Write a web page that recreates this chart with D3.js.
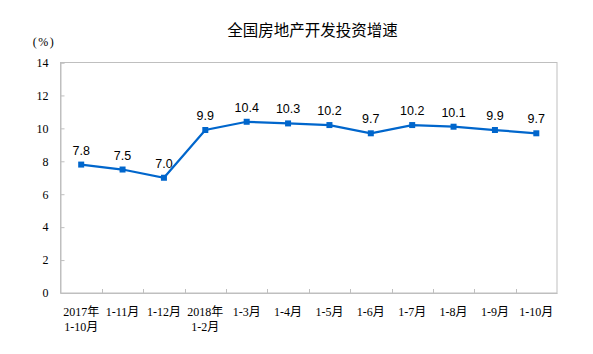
<!DOCTYPE html>
<html>
<head>
<meta charset="utf-8">
<script src="https://cdn.jsdelivr.net/npm/d3@7"></script>
<style>
	body { margin: 0; background: #fff; }
	svg { display: block; }
</style>
</head>
<body>
<div id="chart-bg"></div>
<script>
var categories = ["2017年1-10月", "1-11月", "1-12月", "2018年1-2月", "1-3月", "1-4月", "1-5月", "1-6月", "1-7月", "1-8月", "1-9月", "1-10月"];
var categoryLines = [["2017年", "1-10月"], ["1-11月"], ["1-12月"], ["2018年", "1-2月"], ["1-3月"], ["1-4月"], ["1-5月"], ["1-6月"], ["1-7月"], ["1-8月"], ["1-9月"], ["1-10月"]];
var growth = [7.8, 7.5, 7.0, 9.9, 10.4, 10.3, 10.2, 9.7, 10.2, 10.1, 9.9, 9.7];
var yTicks = [0, 2, 4, 6, 8, 10, 12, 14];

var w = 593;
var h = 354;
var plotLeft = 60.5;
var plotRight = 557;
var plotTop = 62.5;
var plotBottom = 293;
var axisColor = "#bfbfbf";
var lineColor = "#0066cc";

var svg = d3.
select("#chart-bg").
append("svg").
attr("width", w).
attr("height", h);

var xScale = d3.scaleBand().domain(categories).range([plotLeft, plotRight]);
var yScale = d3.scaleLinear().domain([0, 14]).range([plotBottom, plotTop]);

// frame
svg.
append("rect").
attr("x", plotLeft).
attr("y", plotTop).
attr("width", plotRight - plotLeft).
attr("height", plotBottom - plotTop).
attr("fill", "none").
attr("stroke", axisColor).
attr("stroke-width", 1);

// y axis
var yAxis = d3.axisLeft(yScale).tickValues(yTicks).tickSize(-4).tickPadding(12).tickFormat(d3.format("d"));
var gy = svg.
append("g").
attr("transform", "translate(" + plotLeft + ",0)").
call(yAxis);
gy.select(".domain").attr("stroke", axisColor);
gy.selectAll(".tick line").attr("stroke", axisColor);
gy.selectAll(".tick text").
attr("fill", "#000").
style("font-family", "'Liberation Serif', 'Times New Roman', serif").
style("font-size", "12px");

// x axis line + inward ticks at band boundaries
var xAxis = d3.axisBottom(xScale).tickSize(0).tickFormat("");
var gx = svg.
append("g").
attr("transform", "translate(0," + plotBottom + ")").
call(xAxis);
gx.select(".domain").attr("stroke", axisColor);

svg.
selectAll("line.xtick").
data(categories.slice(1)).
enter().
append("line").
attr("class", "xtick").
attr("x1", function (d) {return Math.round(xScale(d)) + 0.5;}).
attr("x2", function (d) {return Math.round(xScale(d)) + 0.5;}).
attr("y1", plotBottom).
attr("y2", plotBottom - 4).
attr("stroke", axisColor);

// x labels
var xl = svg.
selectAll("text.xlabel").
data(categories).
enter().
append("text").
attr("class", "xlabel").
attr("text-anchor", "middle").
style("font-family", "'Liberation Serif', 'Noto Sans CJK SC', serif").
style("font-size", "12px").
attr("fill", "#000");

xl.each(function (d, i) {
	var t = d3.select(this);
	var cx = xScale(d) + xScale.bandwidth() / 2;
	categoryLines[i].forEach(function (s, j) {
		t.append("tspan").
		attr("x", cx).
		attr("y", 316 + j * 15).
		text(s);
	});
});

// line
var line = d3.line().
x(function (d, i) {return xScale(categories[i]) + xScale.bandwidth() / 2;}).
y(function (d) {return yScale(d);});

svg.
append("path").
datum(growth).
attr("d", line).
attr("fill", "none").
attr("stroke", lineColor).
attr("stroke-width", 2.25);

svg.
selectAll("rect.dot").
data(growth).
enter().
append("rect").
attr("class", "dot").
attr("x", function (d, i) {return xScale(categories[i]) + xScale.bandwidth() / 2 - 3;}).
attr("y", function (d) {return yScale(d) - 3;}).
attr("width", 6).
attr("height", 6).
attr("fill", lineColor);

svg.
selectAll("text.val").
data(growth).
enter().
append("text").
attr("class", "val").
attr("x", function (d, i) {return xScale(categories[i]) + xScale.bandwidth() / 2;}).
attr("y", function (d) {return yScale(d) - 10;}).
attr("text-anchor", "middle").
style("font-family", "'Liberation Sans', Arial, sans-serif").
style("font-size", "12.5px").
attr("fill", "#000").
text(function (d) {return d3.format(".1f")(d);});

// title
svg.
append("text").
attr("x", 312.5).
attr("y", 35.5).
attr("text-anchor", "middle").
style("font-family", "'Noto Sans CJK SC', sans-serif").
style("font-size", "15.5px").
attr("fill", "#000").
text("全国房地产开发投资增速");

// unit
svg.
append("text").
attr("x", 44).
attr("y", 46).
attr("text-anchor", "middle").
style("font-family", "'Liberation Serif', serif").
style("font-size", "12px").
style("letter-spacing", "1.5px").
attr("fill", "#000").
text("(%)");
</script>
</body>
</html>
